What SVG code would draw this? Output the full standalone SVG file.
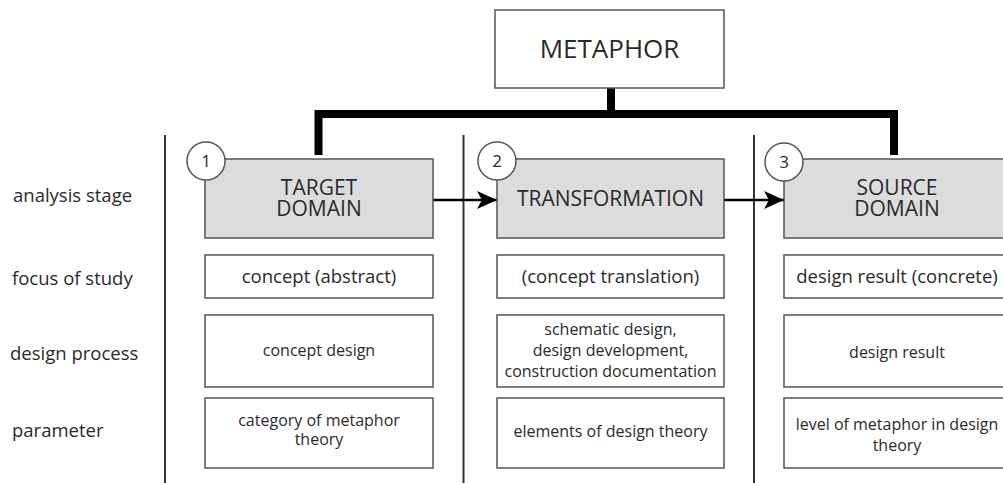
<svg xmlns="http://www.w3.org/2000/svg" width="1003" height="483" viewBox="0 0 1003 483">
<style>
text{font-family:"Open Sans","Liberation Sans",sans-serif;fill:#2a2a2a}
.lbl{font-size:18.5px}
.hd{font-size:21px;text-anchor:middle}
.big{font-size:18.5px;text-anchor:middle}
.sm{font-size:16px;text-anchor:middle}
.num{font-size:17px;text-anchor:middle}
.box{fill:#fff;stroke:#555;stroke-width:1.5}
.gbox{fill:#dcdcdc;stroke:#555;stroke-width:1.5}
.circ{fill:#fff;stroke:#555;stroke-width:1.5}
.sep{stroke:#333;stroke-width:2;fill:none}
.tree{stroke:#000;stroke-width:8;fill:none}
.arr{stroke:#000;stroke-width:2.5;fill:none;marker-end:url(#ah)}
</style>
<defs>
<marker id="ah" viewBox="0 0 20 18" refX="20" refY="9" markerWidth="20" markerHeight="18" markerUnits="userSpaceOnUse" orient="auto">
<path d="M0,0 L20,9 L0,18 L5,9 Z" fill="#000"/>
</marker>
</defs>
<rect width="1003" height="483" fill="#fff"/>

<g id="separators">
<line class="sep" x1="165" y1="135" x2="165" y2="483"/>
<line class="sep" x1="463.5" y1="135" x2="463.5" y2="483"/>
<line class="sep" x1="754" y1="135" x2="754" y2="483"/>
</g>

<g id="row-labels">
<text class="lbl" x="13" y="202">analysis stage</text>
<text class="lbl" x="12" y="285">focus of study</text>
<text class="lbl" x="10" y="360">design process</text>
<text class="lbl" x="12" y="437">parameter</text>
</g>

<g id="connectors">
<path class="tree" d="M611,88 V114"/>
<path class="tree" d="M318.5,155 V114 H894 V155"/>
<line class="arr" x1="433" y1="200" x2="497" y2="200"/>
<line class="arr" x1="724" y1="200" x2="784" y2="200"/>
</g>

<g id="metaphor">
<rect class="box" x="495" y="10" width="229" height="78"/>
<text x="609.5" y="58" style="font-size:26px;text-anchor:middle">METAPHOR</text>
</g>

<g id="target-domain">
<rect class="gbox" x="205" y="159" width="228" height="79"/>
<text class="hd" x="319" y="195">TARGET<tspan x="319" dy="21">DOMAIN</tspan></text>
</g>
<g id="num-1">
<circle class="circ" cx="206" cy="161" r="19"/>
<text class="num" x="206" y="167">1</text>
</g>

<g id="transformation">
<rect class="gbox" x="497" y="159" width="227" height="79"/>
<text class="hd" x="610.5" y="206">TRANSFORMATION</text>
</g>
<g id="num-2">
<circle class="circ" cx="497" cy="161" r="19"/>
<text class="num" x="497" y="167">2</text>
</g>

<g id="source-domain">
<rect class="gbox" x="784" y="159" width="227" height="79"/>
<text class="hd" x="897" y="195">SOURCE<tspan x="897" dy="21">DOMAIN</tspan></text>
</g>
<g id="num-3">
<circle class="circ" cx="784" cy="162" r="19"/>
<text class="num" x="784" y="168">3</text>
</g>

<g id="focus-target">
<rect class="box" x="205" y="255" width="228" height="43"/>
<text class="big" x="319" y="283">concept (abstract)</text>
</g>
<g id="focus-transformation">
<rect class="box" x="497" y="255" width="227" height="43"/>
<text class="big" x="610.5" y="283">(concept translation)</text>
</g>
<g id="focus-source">
<rect class="box" x="784" y="255" width="227" height="43"/>
<text class="big" x="897" y="283">design result (concrete)</text>
</g>

<g id="process-target">
<rect class="box" x="205" y="315" width="228" height="72"/>
<text class="sm" x="319" y="356">concept design</text>
</g>
<g id="process-transformation">
<rect class="box" x="497" y="315" width="227" height="72"/>
<text class="sm" x="610.5" y="335">schematic design,<tspan x="610.5" dy="21">design development,</tspan><tspan x="610.5" dy="21">construction documentation</tspan></text>
</g>
<g id="process-source">
<rect class="box" x="784" y="315" width="227" height="72"/>
<text class="sm" x="897" y="358">design result</text>
</g>

<g id="param-target">
<rect class="box" x="205" y="398" width="228" height="70"/>
<text class="sm" x="319" y="426">category of metaphor<tspan x="319" dy="19">theory</tspan></text>
</g>
<g id="param-transformation">
<rect class="box" x="497" y="398" width="227" height="70"/>
<text class="sm" x="610.5" y="437">elements of design theory</text>
</g>
<g id="param-source">
<rect class="box" x="784" y="398" width="227" height="70"/>
<text class="sm" x="897" y="430">level of metaphor in design<tspan x="897" dy="21">theory</tspan></text>
</g>
</svg>
